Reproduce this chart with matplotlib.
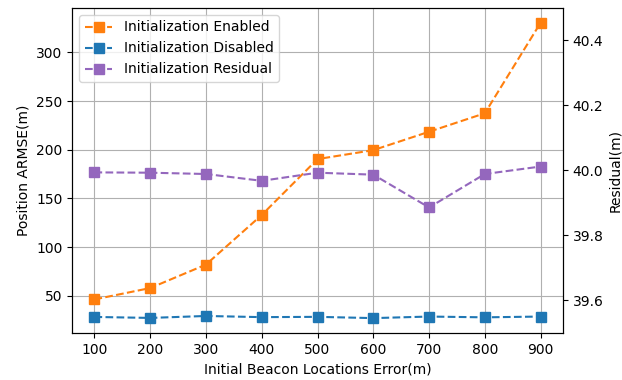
import matplotlib
matplotlib.use("Agg")
import matplotlib.pyplot as plt

# Data
beacon_error = [100, 200, 300, 400, 500, 600, 700, 800, 900]
armse_enabled = [46.2, 57.9, 82.0, 133.0, 190.4, 199.6, 218.5, 237.5, 330.5]
armse_disabled = [28.2, 27.2, 29.2, 28.0, 28.3, 27.0, 28.6, 27.8, 28.6]
residual = [39.994, 39.993, 39.989, 39.968, 39.993, 39.987, 39.886, 39.989, 40.012]

fig, ax = plt.subplots(figsize=(6.22, 3.8), dpi=100)
fig.subplots_adjust(left=0.116, right=0.905, top=0.979, bottom=0.124)

l1, = ax.plot(beacon_error, armse_enabled, "--s", color="tab:orange",
              markersize=7, label="Initialization Enabled")
l2, = ax.plot(beacon_error, armse_disabled, "--s", color="tab:blue",
              markersize=7, label="Initialization Disabled")
ax.set_xlabel("Initial Beacon Locations Error(m)")
ax.set_ylabel("Position ARMSE(m)")
ax.set_xticks(beacon_error)
ax.grid(True)

ax2 = ax.twinx()
l3, = ax2.plot(beacon_error, residual, "--s", color="tab:purple",
               markersize=7, label="Initialization Residual")
ax2.set_ylim(39.5, 40.5)
ax2.set_yticks([39.6, 39.8, 40.0, 40.2, 40.4])
# the reference clips this label at the edge; keep it just inside
ax2.set_ylabel("Residual(m)", labelpad=3)

ax.legend(handles=[l1, l2, l3], loc="upper left")

fig.savefig("out.png", dpi=100)
